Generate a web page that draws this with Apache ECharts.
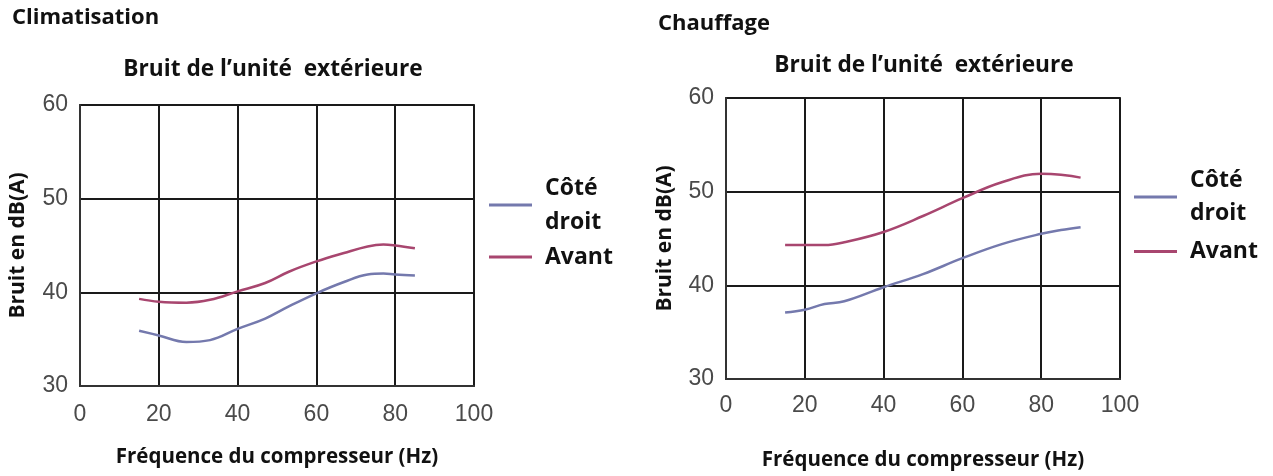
<!DOCTYPE html>
<html>
<head>
<meta charset="utf-8">
<script src="https://cdn.jsdelivr.net/npm/echarts@6/dist/echarts.min.js"></script>
<style>html,body{margin:0;padding:0;background:#fff;}#c{width:1273px;height:476px;}</style>
</head>
<body>
<div id="c"></div>
<script>
// Climatisation (cooling)
const coolX     = [15, 20, 27, 33, 40, 47, 53, 60, 67, 73, 77, 80, 85];
const coolSide  = [35.9, 35.4, 34.7, 34.9, 36.1, 37.2, 38.5, 39.9, 41.1, 41.9, 42.0, 41.9, 41.8];
const coolFront = [39.3, 39.0, 38.9, 39.2, 40.1, 41.0, 42.2, 43.3, 44.2, 44.9, 45.1, 45.0, 44.7];
// Chauffage (heating)
const heatX     = [15, 20, 25, 30, 40, 50, 60, 70, 80, 85, 90];
const heatSide  = [37.1, 37.4, 38.0, 38.3, 39.8, 41.2, 42.9, 44.4, 45.5, 45.9, 46.2];
const heatFront = [44.3, 44.3, 44.3, 44.6, 45.7, 47.4, 49.3, 51.0, 51.9, 51.8, 51.5];
const xTicks = [0, 20, 40, 60, 80, 100];
const yTicks = [30, 40, 50, 60];
const seriesNames = ['Côté droit', 'Avant'];

const blue = '#7479ad';
const red = '#a8466f';
const font = '"Open Sans", sans-serif';
const tickFont = '"Liberation Sans", Arial, sans-serif';

function pairs(xs, ys) { return xs.map((x, i) => [x, ys[i]]); }

function xAxis(gi, gap, margin) {
  return {
    type: 'value', gridIndex: gi, min: xTicks[0], max: xTicks[xTicks.length - 1], interval: 20,
    name: 'Fréquence du compresseur (Hz)', nameLocation: 'middle', nameGap: gap,
    nameTextStyle: { fontFamily: font, fontWeight: 'bold', fontSize: 20.5, color: '#111' },
    axisLine: { show: true, lineStyle: { color: '#333', width: 2 } },
    axisTick: { show: false },
    axisLabel: { margin: margin, fontFamily: tickFont, fontSize: 23, color: '#4a4a4a' },
    splitLine: { show: true, lineStyle: { color: '#1a1a1a', width: 2 } }
  };
}
function yAxis(gi, gap) {
  return {
    type: 'value', gridIndex: gi, min: yTicks[0], max: yTicks[yTicks.length - 1], interval: 10,
    name: 'Bruit en dB(A)', nameLocation: 'middle', nameGap: gap, nameRotate: 90,
    nameTextStyle: { fontFamily: font, fontWeight: 'bold', fontSize: 21, color: '#111' },
    axisLine: { show: true, lineStyle: { color: '#333', width: 2 } },
    axisTick: { show: false },
    axisLabel: { margin: 12, fontFamily: tickFont, fontSize: 23, color: '#4a4a4a' },
    splitLine: { show: true, lineStyle: { color: '#1a1a1a', width: 2 } }
  };
}
function line(name, gi, data, color) {
  return {
    name: name, type: 'line', xAxisIndex: gi, yAxisIndex: gi, data: data,
    smooth: 0.4, showSymbol: false, symbol: 'none', color: color,
    lineStyle: { color: color, width: 2.5 }, itemStyle: { color: color },
    emphasis: { disabled: true }
  };
}
function legend(left, top, lh, gap) {
  return {
    orient: 'vertical', left: left, top: top, padding: 0, itemGap: gap,
    icon: 'rect', itemWidth: 43, itemHeight: 3,
    data: seriesNames,
    formatter: n => n.replace(' ', '\n'),
    textStyle: { fontFamily: font, fontWeight: 'bold', fontSize: 23, color: '#111', lineHeight: lh, padding: [0, 0, 0, 8] }
  };
}
function heading(text, left, top, size, center) {
  const t = { text: text, left: left, top: top, padding: 0, textStyle: { fontFamily: font, fontWeight: 'bold', fontSize: size, color: '#111' } };
  if (center) t.textAlign = 'center';
  return t;
}

const chart = echarts.init(document.getElementById('c'));
chart.setOption({
  animation: false,
  backgroundColor: '#fff',
  title: [
    heading('Climatisation', 12, 7, 22, false),
    heading('Chauffage', 658, 13, 22, false),
    heading('Bruit de l’unité  extérieure', 273, 58, 22.7, true),
    heading('Bruit de l’unité  extérieure', 924, 54, 22.7, true)
  ],
  legend: [ legend(489, 171, 34, 1), legend(1134, 164, 33, 5) ],
  grid: [
    { left: 80, top: 105, width: 394, height: 281, show: true, borderColor: '#444', borderWidth: 2, containLabel: false },
    { left: 726, top: 98, width: 394, height: 283, show: true, borderColor: '#444', borderWidth: 2, containLabel: false }
  ],
  xAxis: [ xAxis(0, 61, 17), xAxis(1, 71, 15) ],
  yAxis: [ yAxis(0, 51), yAxis(1, 50) ],
  series: [
    line(seriesNames[0], 0, pairs(coolX, coolSide), blue),
    line(seriesNames[1], 0, pairs(coolX, coolFront), red),
    line(seriesNames[0], 1, pairs(heatX, heatSide), blue),
    line(seriesNames[1], 1, pairs(heatX, heatFront), red)
  ]
});
</script>
</body>
</html>
